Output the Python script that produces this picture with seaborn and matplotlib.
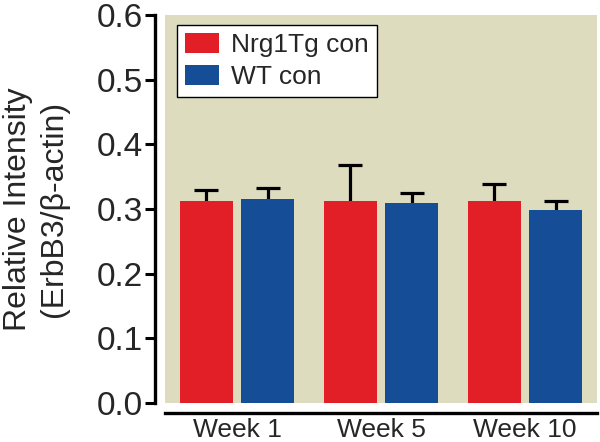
import matplotlib
matplotlib.use("Agg")
import matplotlib.pyplot as plt
import seaborn as sns
import pandas as pd
import numpy as np

weeks = ["Week 1", "Week 5", "Week 10"]
groups = ["Nrg1Tg con", "WT con"]
nrg_vals = [0.312, 0.313, 0.313]
wt_vals = [0.315, 0.309, 0.299]
nrg_err = [0.017, 0.055, 0.025]
wt_err = [0.017, 0.016, 0.014]
yticks = [0.0, 0.1, 0.2, 0.3, 0.4, 0.5, 0.6]

colors = {"Nrg1Tg con": "#E21E27", "WT con": "#154E96"}
panel_color = "#DDDCBF"

df = pd.DataFrame({
    "week": weeks * 2,
    "group": [groups[0]] * 3 + [groups[1]] * 3,
    "value": nrg_vals + wt_vals,
})
errs = {groups[0]: nrg_err, groups[1]: wt_err}

sns.set_style("white")
plt.rcParams["font.family"] = ["Liberation Sans", "DejaVu Sans"]

fig = plt.figure(figsize=(6, 4.42), dpi=100)
ax = fig.add_axes([0.275, 0.088, 0.72, 0.878])
ax.set_facecolor(panel_color)

sns.barplot(data=df, x="week", y="value", hue="group", order=weeks,
            hue_order=groups, palette=colors, width=0.86, gap=0.145,
            errorbar=None, saturation=1, linewidth=0, ax=ax, zorder=2)

for cont, g in zip(ax.containers, groups):
    xs = [p.get_x() + p.get_width() / 2 for p in cont.patches]
    hs = [p.get_height() for p in cont.patches]
    e = np.array(errs[g])
    ax.errorbar(xs, hs, yerr=[e, e], fmt="none",
                ecolor="black", elinewidth=2.3, capsize=8.5, capthick=2.3,
                zorder=1)

ax.set_ylim(0, 0.6)
ax.set_xlim(-0.5, 2.5)
ax.set_yticks(yticks)
ax.set_yticklabels([f"{t:.1f}" for t in yticks])
ax.set_xlabel("")
ax.set_ylabel("Relative Intensity\n(ErbB3/β-actin)", fontsize=23,
              labelpad=20, linespacing=1.25)

for s in ["top", "right"]:
    ax.spines[s].set_visible(False)
ax.spines["left"].set_position(("outward", 7))
ax.spines["bottom"].set_position(("outward", 7))
ax.spines["left"].set_linewidth(2.4)
ax.spines["bottom"].set_linewidth(2.4)
ax.spines["left"].set_color("black")
ax.spines["bottom"].set_color("black")

ax.tick_params(axis="y", direction="out", length=7, width=2.2, pad=2,
               labelsize=24, left=True, color="black")
ax.tick_params(axis="x", length=0, pad=4, labelsize=19)

leg = ax.legend(loc="upper left", bbox_to_anchor=(0.028, 0.974),
                borderaxespad=0, fontsize=19, frameon=True, fancybox=False,
                handlelength=1.3, handleheight=0.8, handletextpad=0.45,
                borderpad=0.3, labelspacing=0.3, title=None)
leg.get_frame().set_edgecolor("black")
leg.get_frame().set_linewidth(1.0)
leg.get_frame().set_facecolor("white")
leg.get_frame().set_alpha(1)

fig.savefig("out.png", dpi=100)
